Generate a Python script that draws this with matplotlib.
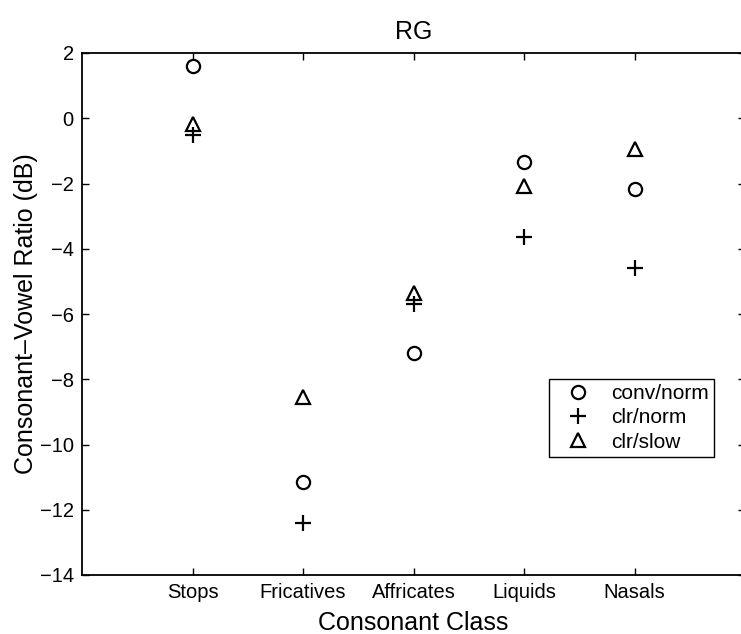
import matplotlib
matplotlib.use("Agg")
import matplotlib.pyplot as plt

plt.rcParams["font.family"] = ["Liberation Sans", "DejaVu Sans"]

classes    = ["Stops", "Fricatives", "Affricates", "Liquids", "Nasals"]
conv_norm  = [1.6, -11.15, -7.2, -1.34, -2.18]
clr_norm   = [-0.5, -12.4, -5.7, -3.64, -4.59]
clr_slow   = [-0.18, -8.53, -5.36, -2.08, -0.95]
yticks     = [2, 0, -2, -4, -6, -8, -10, -12, -14]

fig = plt.figure(figsize=(7.41, 6.34), dpi=100)
# axes runs a little past the right edge of the figure, as in the scan
ax = fig.add_axes([82 / 741, 59 / 634, 663 / 741, 522 / 634])

x = list(range(1, len(classes) + 1))
mk = dict(linestyle="none", color="black", markerfacecolor="none",
          markeredgewidth=1.6)
ax.plot(x, conv_norm, marker="o", markersize=9.5, label="conv/norm", **mk)
ax.plot(x, clr_norm, marker="+", markersize=11, label="clr/norm", **mk)
ax.plot(x, clr_slow, marker="^", markersize=10, label="clr/slow", **mk)

ax.set_xlim(0, 6)
ax.set_ylim(-14, 2)
ax.set_xticks(x)
ax.set_xticklabels(classes)
ax.set_yticks(yticks)
ax.tick_params(direction="in", length=5, width=1, top=True, right=True,
               labelsize=14.5, pad=6)
for s in ax.spines.values():
    s.set_linewidth(1.3)

ax.set_xlabel("Consonant Class", fontsize=18, labelpad=6)
ax.set_ylabel("Consonant\u2013Vowel Ratio (dB)", fontsize=18, labelpad=1)
ax.set_title("RG", fontsize=18, pad=10)

leg = ax.legend(loc="upper left", bbox_to_anchor=(549 / 741, 1 - 379 / 634),
                bbox_transform=fig.transFigure, borderaxespad=0,
                fancybox=False, framealpha=1, edgecolor="black",
                fontsize=15, handlelength=2.3, handletextpad=0.45,
                borderpad=0.25, labelspacing=0.25)
leg.get_frame().set_linewidth(1.0)

fig.savefig("out.png", dpi=100)
